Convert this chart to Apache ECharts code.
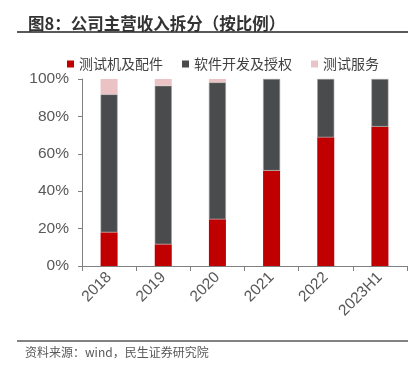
<!DOCTYPE html>
<html><head><meta charset="utf-8">
<script src="https://cdn.jsdelivr.net/npm/echarts@6/dist/echarts.min.js"></script>
<style>html,body{margin:0;padding:0;background:#fff}#c{width:420px;height:376px}</style>
</head><body><div id="c"></div>
<script>
const categories = ['2018','2019','2020','2021','2022','2023H1'];
const testerParts = [18.0, 11.6, 25.0, 51.0, 68.8, 74.5];
const softwareLicense = [73.8, 84.8, 73.2, 49.0, 31.2, 25.5];
const testService = [8.2, 3.6, 1.8, 0, 0, 0];
const yTicks = [0, 20, 40, 60, 80, 100];
const seriesNames = ['测试机及配件','软件开发及授权','测试服务'];
const colors = ['#C00000','#4A4B4D','#EBC3C4'];

const chart = echarts.init(document.getElementById('c'), null, {renderer:'canvas'});
const cjk = '"Noto Sans CJK SC", sans-serif';
const latin = '"Liberation Sans", "Noto Sans CJK SC", sans-serif';
const dataArr = [testerParts, softwareLicense, testService];
chart.setOption({
  animation:false,
  backgroundColor:'#fff',
  textStyle:{fontFamily:latin},
  title:{text:'图8：公司主营收入拆分（按比例）', left:23, top:10,
    textStyle:{fontSize:16.5, fontWeight:'bold', color:'#333', fontFamily:cjk}},
  graphic:[
    {type:'line', shape:{x1:17,y1:32,x2:408,y2:32}, style:{stroke:'#595959', lineWidth:2}},
    {type:'line', shape:{x1:17,y1:341,x2:408,y2:341}, style:{stroke:'#595959', lineWidth:1.5}},
    {type:'text', left:25, top:346, style:{text:'资料来源：wind，民生证券研究院', fill:'#595959', font:'12px '+cjk}}
  ],
  legend:{top:52, left:62, itemWidth:7, itemHeight:7, itemGap:19,
    icon:'rect', itemStyle:{borderWidth:0},
    textStyle:{fontSize:14, color:'#404040', fontFamily:cjk},
    data:seriesNames},
  grid:{left:82, right:13, top:79, bottom:110, containLabel:false},
  xAxis:{type:'category', data:categories,
    axisLine:{lineStyle:{color:'#808080'}},
    axisTick:{show:true, alignWithLabel:false, length:5, lineStyle:{color:'#808080'}},
    axisLabel:{rotate:45, fontSize:15.5, color:'#595959', margin:9, fontFamily:latin}},
  yAxis:{type:'value', min:0, max:100, interval:20,
    axisLine:{show:true, lineStyle:{color:'#808080'}},
    axisTick:{show:true, length:4, lineStyle:{color:'#808080'}},
    splitLine:{show:false},
    axisLabel:{fontSize:15.5, color:'#595959', margin:13, fontFamily:latin,
      formatter:v => yTicks.includes(v) ? v + '%' : ''}},
  series: seriesNames.map((n,i)=>({
    name:n, type:'bar', stack:'total', barWidth:17, data:dataArr[i],
    itemStyle:{color:colors[i], borderColor: i===1 ? '#9a9a9a' : colors[i], borderWidth: i===1?0.6:0}
  }))
});
</script></body></html>
